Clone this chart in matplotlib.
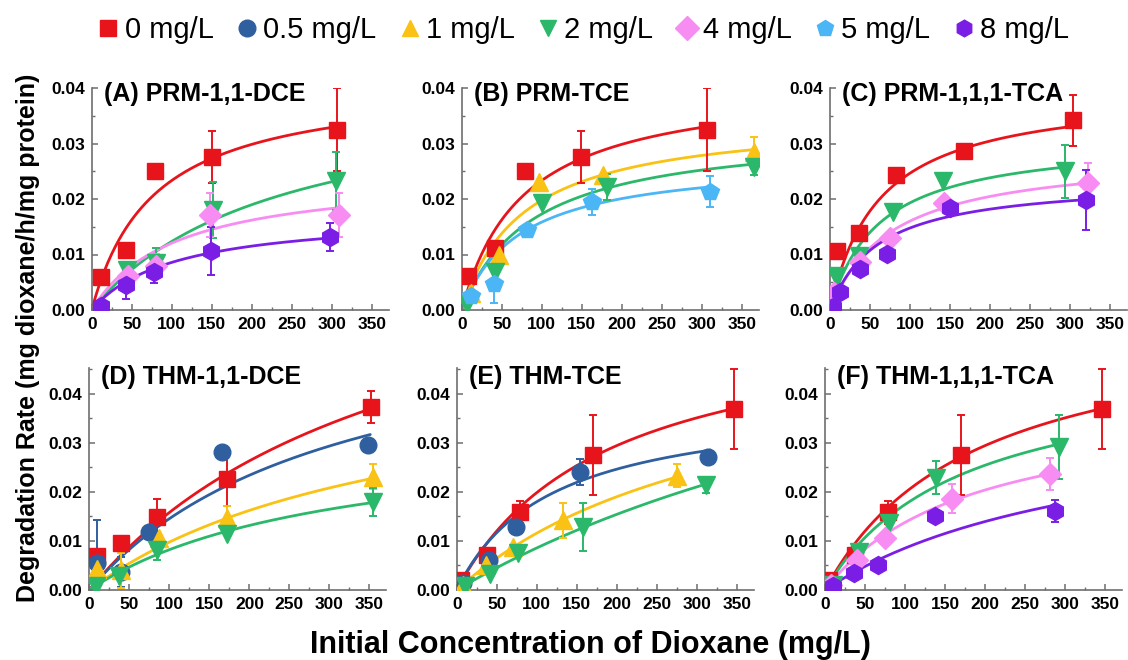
import numpy as np
import matplotlib.pyplot as plt
from matplotlib.lines import Line2D
from matplotlib.ticker import MultipleLocator, FormatStrFormatter

plt.rcParams['font.family'] = ['Liberation Sans', 'DejaVu Sans']

# Co-contaminant concentrations shown in the legend
LEVELS = ["0", "0.5", "1", "2", "4", "5", "8"]
LEVEL_LABELS = ["0 mg/L", "0.5 mg/L", "1 mg/L", "2 mg/L", "4 mg/L", "5 mg/L", "8 mg/L"]

COLORS = {"0": "#e8141c", "0.5": "#2f5f9f", "1": "#f9c214", "2": "#2bb86a",
          "4": "#f78cf2", "5": "#4ab6f5", "8": "#7a1ee6"}
MARKERS = {"0": "s", "0.5": "o", "1": "^", "2": "v", "4": "D", "5": "p", "8": "h"}
MSIZE = {"0": 11, "0.5": 12, "1": 13, "2": 13, "4": 11, "5": 13, "8": 13}

# ---- (A) PRM-1,1-DCE ----
A_x = {"0": [11, 43, 79, 150, 307], "2": [44, 80, 152, 305],
       "4": [45, 80, 148, 309], "8": [12, 43, 78, 149, 298]}
A_y = {"0": [0.0060, 0.0109, 0.0250, 0.0276, 0.0325], "2": [0.0072, 0.0085, 0.0180, 0.0233],
       "4": [0.0062, 0.0079, 0.0171, 0.0171], "8": [0.0008, 0.0045, 0.0068, 0.0106, 0.0131]}
A_err = {"0": [0, 0, 0, 0.0047, 0.0075], "2": [0, 0.0026, 0.0050, 0.0052],
         "4": [0, 0.0022, 0.0040, 0.0040], "8": [0, 0.0026, 0.0019, 0.0043, 0.0025]}
A_fit = {"0": (0.0414, 77.4), "2": (0.0409, 231), "4": (0.0247, 105), "8": (0.0175, 104)}

# ---- (B) PRM-TCE ----
B_x = {"0": [8, 42, 79, 149, 306], "1": [12, 47, 96, 176, 365],
       "2": [6, 41, 100, 182, 365], "5": [12, 40, 82, 163, 310]}
B_y = {"0": [0.0062, 0.0112, 0.0250, 0.0276, 0.0325], "1": [0.0030, 0.0099, 0.0230, 0.0243, 0.0285],
       "2": [0.0010, 0.0069, 0.0192, 0.0222, 0.0258], "5": [0.0025, 0.0047, 0.0145, 0.0195, 0.0213]}
B_err = {"0": [0, 0, 0, 0.0047, 0.0075], "1": [0, 0, 0, 0, 0.0027],
         "2": [0, 0, 0, 0.0023, 0.0014], "5": [0, 0.0035, 0, 0.0023, 0.0028]}
B_fit = {"0": (0.0414, 77.4), "1": (0.0350, 77), "2": (0.0327, 89), "5": (0.0274, 73)}

# ---- (C) PRM-1,1,1-TCA ----
C_x = {"0": [9, 36, 82, 168, 304], "2": [8, 36, 79, 141, 294],
       "4": [5, 38, 75, 143, 322], "8": [4, 12, 37, 71, 150, 320]}
C_y = {"0": [0.0106, 0.0138, 0.0243, 0.0287, 0.0342], "2": [0.0061, 0.0097, 0.0176, 0.0233, 0.0250],
       "4": [0.0030, 0.0087, 0.0129, 0.0193, 0.0229], "8": [0.0005, 0.0032, 0.0074, 0.0101, 0.0183, 0.0199]}
C_err = {"0": [0, 0, 0, 0, 0.0046], "2": [0, 0, 0, 0, 0.0048],
         "4": [0, 0, 0, 0, 0.0035], "8": [0, 0, 0, 0, 0, 0.0054]}
C_fit = {"0": (0.0398, 61.4), "2": (0.0311, 61), "4": (0.0283, 76.6), "8": (0.0236, 59.7)}

# ---- (D) THM-1,1-DCE ----
D_x = {"0": [9, 39, 84, 172, 352], "0.5": [9, 39, 74, 166, 348],
       "1": [10, 40, 87, 172, 354], "2": [8, 37, 84, 172, 354]}
D_y = {"0": [0.0070, 0.0095, 0.0149, 0.0227, 0.0373], "0.5": [0.0054, 0.0037, 0.0118, 0.0280, 0.0295],
       "1": [0.0043, 0.0040, 0.0105, 0.0147, 0.0231], "2": [0.0008, 0.0029, 0.0081, 0.0114, 0.0179]}
D_err = {"0": [0, 0, 0.0036, 0.0055, 0.0033], "0.5": [0.0088, 0.0030, 0, 0, 0],
         "1": [0, 0.0035, 0, 0.0025, 0.0026], "2": [0, 0, 0.0020, 0, 0.0029]}
D_fit = {"0": (0.0789, 400), "0.5": (0.0597, 311), "1": (0.0478, 390), "2": (0.0330, 302)}

# ---- (E) THM-TCE ----
E_x = {"0": [5, 38, 79, 170, 346], "0.5": [8, 40, 74, 154, 314],
       "1": [8, 37, 70, 133, 275], "2": [10, 41, 77, 158, 311]}
E_y = {"0": [0.0020, 0.0072, 0.0158, 0.0275, 0.0368], "0.5": [0.0015, 0.0062, 0.0128, 0.0240, 0.0270],
       "1": [0.0010, 0.0051, 0.0088, 0.0142, 0.0233], "2": [0.0008, 0.0032, 0.0075, 0.0128, 0.0213]}
E_err = {"0": [0, 0, 0.0024, 0.0082, 0.0081], "0.5": [0, 0, 0, 0.0027, 0],
         "1": [0, 0, 0, 0.0036, 0.0024], "2": [0, 0, 0, 0.0049, 0.0016]}
E_fit = {"0": (0.0569, 187), "0.5": (0.0390, 117), "1": (0.0529, 357), "2": (0.0768, 797)}

# ---- (F) THM-1,1,1-TCA ----
F_x = {"0": [5, 38, 79, 170, 346], "2": [10, 43, 80, 139, 292],
       "4": [8, 40, 75, 159, 281], "8": [10, 36, 66, 138, 287]}
F_y = {"0": [0.0020, 0.0072, 0.0158, 0.0275, 0.0368], "2": [0.0010, 0.0077, 0.0137, 0.0229, 0.0291],
       "4": [0.0010, 0.0061, 0.0106, 0.0186, 0.0236], "8": [0.0008, 0.0034, 0.0050, 0.0151, 0.0161]}
F_err = {"0": [0, 0, 0.0024, 0.0082, 0.0081], "2": [0, 0, 0, 0.0033, 0.0066],
         "4": [0, 0, 0, 0.0029, 0.0032], "8": [0, 0, 0, 0, 0.0022]}
F_fit = {"0": (0.0569, 187), "2": (0.0470, 170), "4": (0.0391, 184), "8": (0.0382, 348)}

TITLES = ["(A) PRM-1,1-DCE", "(B) PRM-TCE", "(C) PRM-1,1,1-TCA",
          "(D) THM-1,1-DCE", "(E) THM-TCE", "(F) THM-1,1,1-TCA"]
PANELS = [(A_x, A_y, A_err, A_fit), (B_x, B_y, B_err, B_fit), (C_x, C_y, C_err, C_fit),
          (D_x, D_y, D_err, D_fit), (E_x, E_y, E_err, E_fit), (F_x, F_y, F_err, F_fit)]

W, H = 1128, 660
fig = plt.figure(figsize=(W / 100, H / 100), dpi=100)

# axes boxes in pixels: left, bottom-of-plot (from top), width, height
boxes = [(91.7, 310, 297, 222), (461.7, 310, 297, 222), (830, 310, 297, 222),
         (89.3, 590, 297, 222), (456.7, 590, 297, 222), (825, 590, 297, 222)]
XMAX = 371.0
SPINE = "#6e6e6e"


def mm(s, vmax, k):
    return vmax * s / (k + s)


for i, ((xs, ys, es, fits), (lx, by, w, h), title) in enumerate(zip(PANELS, boxes, TITLES)):
    ax = fig.add_axes([lx / W, (H - by) / H, w / W, h / H])
    top = i < 3
    ymax = 0.040 if top else 0.0452
    for lvl in LEVELS:
        if lvl not in xs:
            continue
        c = COLORS[lvl]
        x = np.array(xs[lvl], dtype=float)
        y = np.array(ys[lvl], dtype=float)
        e = np.array(es[lvl], dtype=float)
        vmax, k = fits[lvl]
        s = np.linspace(0, x.max() + 3, 200)
        ax.plot(s, mm(s, vmax, k), color=c, lw=2.0, zorder=2, solid_capstyle='round')
        m = e > 0
        if m.any():
            ax.errorbar(x[m], y[m], yerr=e[m], fmt='none', ecolor=c, elinewidth=1.4,
                        capsize=3, capthick=1.4, zorder=3)
        ax.plot(x, y, linestyle='none', marker=MARKERS[lvl], ms=MSIZE[lvl],
                color=c, mec=c, zorder=4)

    ax.set_xlim(0, XMAX)
    ax.set_ylim(0, ymax)
    ax.xaxis.set_major_locator(MultipleLocator(50))
    ax.xaxis.set_minor_locator(MultipleLocator(25))
    ax.yaxis.set_major_locator(MultipleLocator(0.01))
    ax.yaxis.set_minor_locator(MultipleLocator(0.005))
    ax.yaxis.set_major_formatter(FormatStrFormatter('%.2f'))
    for side in ("top", "right"):
        ax.spines[side].set_visible(False)
    for side in ("left", "bottom"):
        ax.spines[side].set_color(SPINE)
        ax.spines[side].set_linewidth(1.2)
    ax.tick_params(which='major', direction='in', length=4, width=1.1, color=SPINE,
                   labelsize=12.5, pad=5)
    ax.tick_params(which='minor', direction='in', length=2.5, width=1.0, color=SPINE)
    for lab in ax.get_xticklabels() + ax.get_yticklabels():
        lab.set_fontweight('bold')
    ty = 0.973 if top else 0.961
    ax.text(0.04, ty, title, transform=ax.transAxes, fontsize=18, fontweight='bold',
            ha='left', va='center')
    ax.patch.set_alpha(0)

handles = [Line2D([], [], linestyle='none', marker=MARKERS[l], ms=12, color=COLORS[l],
                  mec=COLORS[l]) for l in LEVELS]
fig.legend(handles, LEVEL_LABELS, loc='center', bbox_to_anchor=(585 / W, 1 - 30 / H),
           ncol=7, frameon=False, fontsize=21, handlelength=0.5, handletextpad=0.3,
           columnspacing=0.9, borderpad=0)

fig.text(28 / W, 1 - 338 / H, "Degradation Rate (mg dioxane/h/mg protein)", rotation=90,
         ha='center', va='center', fontsize=18, fontweight='bold')
fig.text(590 / W, 1 - 645 / H, "Initial Concentration of Dioxane (mg/L)",
         ha='center', va='center', fontsize=22, fontweight='bold')

fig.savefig("out.png", dpi=100)
